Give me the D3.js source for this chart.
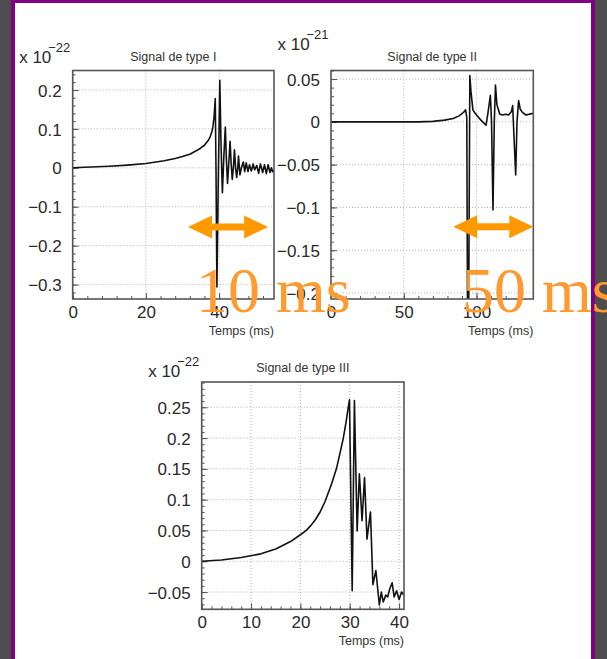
<!DOCTYPE html>
<html><head><meta charset="utf-8">
<script src="https://cdn.jsdelivr.net/npm/d3@7"></script>
<style>body{margin:0;background:#4d4d4d;}svg{display:block}</style>
</head><body><svg id="c" width="607" height="659"></svg>
<script>
// ---- Data ----
const sig1T = [0,5,10,15,20,25,28,30,32,34,35,36,37,37.5,38,38.3,38.6,38.8,38.95,39.15,39.4,39.75,40.2,40.5,40.9,41.3,41.7,42.0,42.3,42.7,43.0,43.3,43.6,43.9,44.2,44.5,44.8,45.1,45.3,45.7,46.1,46.6,47.0,47.4,47.9,48.3,48.8,49.3,49.7,50.3,50.8,51.3,51.9,52.4,52.9,53.4,53.9,54.3,54.6,55];
const sig1V = [0,0.002,0.004,0.007,0.011,0.018,0.024,0.029,0.035,0.045,0.051,0.058,0.07,0.078,0.092,0.105,0.128,0.155,0.178,0.0,-0.306,-0.05,0.225,0.07,-0.064,0.03,0.105,0.02,-0.04,0.02,0.068,0.01,-0.03,0.0,0.046,0.0,-0.025,0.0,0.03,-0.018,0.0,0.015,-0.01,0.013,-0.01,0.008,-0.008,0.01,-0.005,0.006,-0.014,0.01,-0.012,0.008,-0.015,0.008,-0.012,0.0,-0.01,-0.005];

const sig2T = [0,30,60,70,78,84,88,91,92.5,93.3,93.8,94.6,95.4,96.2,97.5,99,101,103,106.5,107.8,109.5,110.3,111.3,112.2,113,114,116,118,120,122,124,124.8,125.8,126.9,127.8,128.9,130,131.5,134,136.5,139];
const sig2V = [0,0,0,0.0005,0.002,0.004,0.007,0.011,0.014,0.005,-0.22,-0.22,0.054,0.035,0.014,0.01,0.006,0.002,-0.004,0.01,0.031,0.0,-0.103,0.0,0.043,0.02,0.009,0.008,0.009,0.008,0.012,0.019,-0.02,-0.062,0.0,0.025,0.015,0.011,0.008,0.009,0.01];

const sig3T = [0,4,8,12,15,18,20,21.2,22,23,24,25,26.3,27.3,28.1,28.7,29.3,29.7,29.95,30.5,30.95,31.5,31.95,32.5,33.0,33.5,34.2,34.7,35.3,36.0,36.4,36.8,37.3,37.7,38.1,38.6,39.0,39.5,40.0,40.5,41];
const sig3V = [0,0.002,0.006,0.012,0.02,0.032,0.043,0.05,0.057,0.067,0.08,0.097,0.125,0.15,0.178,0.2,0.228,0.25,0.262,-0.048,0.261,0.049,0.142,0.066,0.136,0.036,0.08,-0.038,-0.015,-0.071,-0.05,-0.066,-0.055,-0.058,-0.045,-0.035,-0.058,-0.048,-0.062,-0.05,-0.055];

const titles = ["Signal de type I","Signal de type II","Signal de type III"];
const exponents = ["\u221222","\u221221","\u221222"];
const xTicks1 = [0,20,40], xLabels1 = ["0","20","40"];
const yTicks1 = [-0.3,-0.2,-0.1,0,0.1,0.2], yLabels1 = ["\u22120.3","\u22120.2","\u22120.1","0","0.1","0.2"];
const xTicks2 = [0,50,100], xLabels2 = ["0","50","100"];
const yTicks2 = [-0.2,-0.15,-0.1,-0.05,0,0.05], yLabels2 = ["\u22120.2","\u22120.15","\u22120.1","\u22120.05","0","0.05"];
const xTicks3 = [0,10,20,30,40], xLabels3 = ["0","10","20","30","40"];
const yTicks3 = [-0.05,0,0.05,0.1,0.15,0.2,0.25], yLabels3 = ["\u22120.05","0","0.05","0.1","0.15","0.2","0.25"];
const xAxisTitle = "Temps (ms)";

// annotations (data coordinates of panel 1 and 2)
const arrowSpans = [[31.5,53.4,-0.152],[84.0,139.0,-0.1226]];
const annotTexts = ["10 ms","50 ms"];
const annotPos = [[33.7,-0.3697],[90.0,-0.2219]];

// ---- Drawing ----
const W=607,H=659;
const svg=d3.select("#c");
svg.append("rect").attr("width",W).attr("height",H).attr("fill","#4d4d4d");
svg.append("rect").attr("x",11).attr("y",0).attr("width",584).attr("height",H).attr("fill","#800080");
svg.append("rect").attr("x",15).attr("y",3).attr("width",576).attr("height",H).attr("fill","#ffffff");

const SANS = "'Liberation Sans', Arial, Helvetica, sans-serif";
const panels = [
 {T:sig1T,V:sig1V,xDom:[0,55],yDom:[-0.337,0.25],left:72.7,right:274,top:70.5,bottom:299,
  xTicks:xTicks1,xLabels:xLabels1,yTicks:yTicks1,yLabels:yLabels1,xMinor:4,yMinor:0.02,expBase:63,title:titles[0],exp:exponents[0]},
 {T:sig2T,V:sig2V,xDom:[0,139],yDom:[-0.207,0.06],left:331,right:533.3,top:70.5,bottom:299,
  xTicks:xTicks2,xLabels:xLabels2,yTicks:yTicks2,yLabels:yLabels2,xMinor:10,yMinor:0.01,expBase:50,title:titles[1],exp:exponents[1]},
 {T:sig3T,V:sig3V,xDom:[0,41],yDom:[-0.078,0.291],left:201.7,right:404,top:382,bottom:609.3,
  xTicks:xTicks3,xLabels:xLabels3,yTicks:yTicks3,yLabels:yLabels3,xMinor:2,yMinor:0.01,expBase:377,title:titles[2],exp:exponents[2]}
];
const scales=[];
panels.forEach((p,pi)=>{
  const x=d3.scaleLinear().domain(p.xDom).range([p.left,p.right]);
  const y=d3.scaleLinear().domain(p.yDom).range([p.bottom,p.top]);
  scales.push({x,y});
  const g=svg.append("g");
  // grid
  g.selectAll(null).data(p.xTicks).enter().append("line")
    .attr("x1",d=>x(d)).attr("x2",d=>x(d)).attr("y1",p.top).attr("y2",p.bottom)
    .attr("stroke","#a0a0a0").attr("stroke-width",0.8).attr("stroke-dasharray","1,2");
  g.selectAll(null).data(p.yTicks).enter().append("line")
    .attr("y1",d=>y(d)).attr("y2",d=>y(d)).attr("x1",p.left).attr("x2",p.right)
    .attr("stroke","#a0a0a0").attr("stroke-width",0.8).attr("stroke-dasharray","1,2");
  // minor ticks
  const eps=1e-9;
  const mx=d3.range(Math.ceil(p.xDom[0]/p.xMinor)*p.xMinor,p.xDom[1]+eps,p.xMinor);
  const my=d3.range(Math.ceil(p.yDom[0]/p.yMinor-eps)*p.yMinor,p.yDom[1]+eps,p.yMinor);
  const styleAxis=s=>{s.select(".domain").remove();s.selectAll("line").attr("stroke","#555");
     s.selectAll("text").attr("fill","#2a2a2a").attr("font-size",17).attr("font-family",SANS);};
  g.append("g").attr("transform",`translate(0,${p.bottom})`)
    .call(d3.axisBottom(x).tickValues(mx).tickSize(-3).tickFormat("")).call(styleAxis);
  g.append("g").attr("transform",`translate(${p.left},0)`)
    .call(d3.axisLeft(y).tickValues(my).tickSize(-3).tickFormat("")).call(styleAxis);
  g.append("g").attr("transform",`translate(0,${p.bottom})`)
    .call(d3.axisBottom(x).tickValues(p.xTicks).tickSize(-6).tickPadding(7).tickFormat((d,i)=>p.xLabels[i])).call(styleAxis);
  g.append("g").attr("transform",`translate(${p.left},0)`)
    .call(d3.axisLeft(y).tickValues(p.yTicks).tickSize(-6).tickPadding(11).tickFormat((d,i)=>p.yLabels[i])).call(styleAxis)
    .selectAll("text").attr("dy","0.36em");
  // curve
  const cid="clip"+pi;
  svg.append("clipPath").attr("id",cid).append("rect")
    .attr("x",p.left).attr("y",p.top).attr("width",p.right-p.left).attr("height",p.bottom-p.top);
  g.append("path").datum(d3.range(p.T.length))
    .attr("clip-path",`url(#${cid})`)
    .attr("d",d3.line().x(i=>x(p.T[i])).y(i=>y(p.V[i])))
    .attr("fill","none").attr("stroke","#111").attr("stroke-width",1.6).attr("stroke-linejoin","round");
  // frame
  g.append("rect").attr("x",p.left).attr("y",p.top).attr("width",p.right-p.left).attr("height",p.bottom-p.top)
    .attr("fill","none").attr("stroke","#555").attr("stroke-width",1.6);
  // title
  g.append("text").attr("x",(p.left+p.right)/2).attr("y",p.top-10).attr("text-anchor","middle")
    .attr("font-family",SANS).attr("font-size",12.5).attr("fill","#333").text(p.title);
  // axis title
  g.append("text").attr("x",p.right).attr("y",p.bottom+36).attr("text-anchor","end")
    .attr("font-family",SANS).attr("font-size",12.5).attr("fill","#333").text(xAxisTitle);
  // multiplier
  g.append("text").attr("x",p.left-53.5).attr("y",p.expBase)
    .attr("font-family",SANS).attr("font-size",17).attr("fill","#2a2a2a").text("x 10");
  g.append("text").attr("x",p.left-24.5).attr("y",p.expBase-11)
    .attr("font-family",SANS).attr("font-size",13).attr("fill","#2a2a2a").text(p.exp);
});

// annotations
arrowSpans.forEach((a,i)=>{
  const {x,y}=scales[i];
  const x1=x(a[0]),x2=x(a[1]),yc=y(a[2]);
  const hl=24,hh=11.5,sh=3.5;
  const pts=[[x1,yc],[x1+hl,yc-hh],[x1+hl,yc-sh],[x2-hl,yc-sh],[x2-hl,yc-hh],[x2,yc],
             [x2-hl,yc+hh],[x2-hl,yc+sh],[x1+hl,yc+sh],[x1+hl,yc+hh]];
  svg.append("polygon").attr("points",pts.map(q=>q.join(",")).join(" ")).attr("fill","#ff9900");
});
annotTexts.forEach((t,i)=>{
  const {x,y}=scales[i];
  svg.append("text").attr("x",x(annotPos[i][0])).attr("y",y(annotPos[i][1]))
    .attr("font-family","'Liberation Serif','Times New Roman',serif").attr("font-size",64)
    .attr("fill","#ff9a30").text(t);
});
</script></body></html>
